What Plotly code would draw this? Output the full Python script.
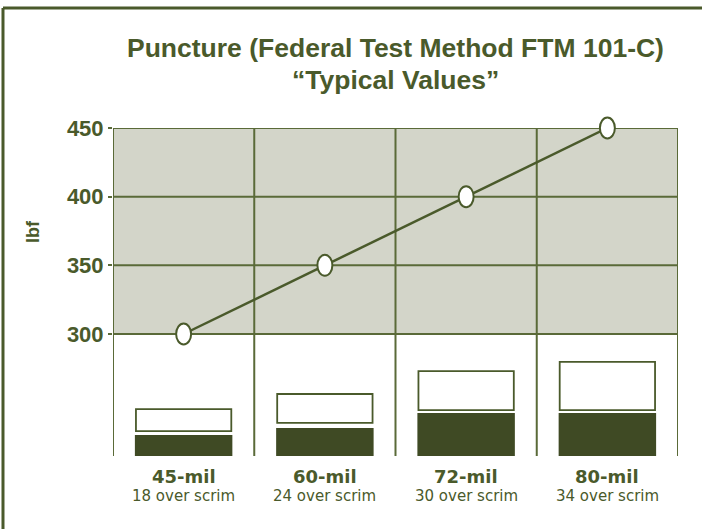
import plotly.graph_objects as go

# ---- data ----
categories = ["45-mil", "60-mil", "72-mil", "80-mil"]
subtitles = ["18 over scrim", "24 over scrim", "30 over scrim", "34 over scrim"]
puncture_lbf = [300, 350, 400, 450]
y_ticks = [300, 350, 400, 450]
# illustrative thickness bars (relative units)
dark_bar = [6.4, 8.5, 13.1, 13.1]
white_base = [7.6, 10.1, 14.0, 14.0]
white_top = [14.3, 18.9, 25.9, 28.7]

OLIVE = "#4a5a2b"
GRID = "#5a6a38"
DARK = "#3f4a24"
GRAY = "#d3d5c9"
FONT = "Liberation Sans"
WFONT = "DejaVu Sans"

x_idx = list(range(len(categories)))
lo = y_ticks[0] - (456 - 334) / ((334 - 128) / (y_ticks[-1] - y_ticks[0]))
hi = y_ticks[-1]

fig = go.Figure()

fig.add_trace(go.Bar(x=x_idx, y=dark_bar, yaxis="y2", width=0.69,
                     marker=dict(color=DARK, line=dict(width=0)), showlegend=False, hoverinfo="skip"))
fig.add_trace(go.Bar(x=x_idx, y=[t - b for t, b in zip(white_top, white_base)], base=white_base,
                     yaxis="y2", width=0.675, hoverinfo="skip",
                     marker=dict(color="white", line=dict(color=OLIVE, width=1.8)), showlegend=False))

fig.add_trace(go.Scatter(x=x_idx, y=puncture_lbf, mode="lines", cliponaxis=False,
                         line=dict(color=OLIVE, width=2.5), showlegend=False))

shapes = []
shapes.append(dict(type="rect", xref="paper", yref="y", x0=0, x1=1, y0=y_ticks[0], y1=y_ticks[-1],
                   fillcolor=GRAY, line=dict(width=0), layer="below"))
for v in y_ticks:
    shapes.append(dict(type="line", xref="paper", yref="y", x0=0, x1=1, y0=v, y1=v,
                       line=dict(color=GRID, width=2), layer="below"))
for k in range(len(categories) + 1):
    shapes.append(dict(type="line", xref="x", yref="paper", x0=k - 0.5, x1=k - 0.5, y0=0, y1=1,
                       line=dict(color=GRID, width=2), layer="below"))
# ellipse markers (paper y so they are not clipped at the top edge)
for xi, v in zip(x_idx, puncture_lbf):
    shapes.append(dict(type="circle", xref="x", yref="paper", xsizemode="pixel", ysizemode="pixel",
                       xanchor=xi, yanchor=(v - lo) / (hi - lo), x0=-7.5, x1=7.5, y0=-10.5, y1=10.5,
                       fillcolor="white", line=dict(color=OLIVE, width=2), layer="above"))
# outer frame (left and top)
shapes.append(dict(type="line", xref="paper", yref="paper", x0=-0.1947, x1=1.1, y0=1.3659, y1=1.3659,
                   line=dict(color=OLIVE, width=3)))
shapes.append(dict(type="line", xref="paper", yref="paper", x0=-0.1947, x1=-0.1947, y0=1.3659, y1=-0.3,
                   line=dict(color=OLIVE, width=3)))

annotations = []
for xi, c, s in zip(x_idx, categories, subtitles):
    annotations.append(dict(x=xi, xref="x", y=-0.064, yref="paper", yanchor="middle", showarrow=False,
                            text="<b>" + c + "</b>", font=dict(family=WFONT, size=18, color=OLIVE)))
    annotations.append(dict(x=xi, xref="x", y=-0.122, yref="paper", yanchor="middle", showarrow=False,
                            text=s, font=dict(family=WFONT, size=15, color=OLIVE)))
annotations.append(dict(x=-0.1416, xref="paper", xanchor="center", y=(y_ticks[0] + y_ticks[-1]) / 2,
                        yref="y", yanchor="middle", showarrow=False, textangle=-90, text="<b>lbf</b>",
                        font=dict(family=FONT, size=18, color=OLIVE)))
annotations.append(dict(x=0.5, xref="paper", xanchor="center", y=1.244, yref="paper", yanchor="middle",
                        showarrow=False, text="<b>Puncture (Federal Test Method FTM 101-C)</b>",
                        font=dict(family=FONT, size=26.5, color=OLIVE)))
annotations.append(dict(x=0.5, xref="paper", xanchor="center", y=1.146, yref="paper", yanchor="middle",
                        showarrow=False, text="<b>\u201cTypical Values\u201d</b>",
                        font=dict(family=FONT, size=26.5, color=OLIVE)))

fig.update_layout(
    width=702, height=529,
    margin=dict(l=113, r=24, t=128, b=73),
    paper_bgcolor="white", plot_bgcolor="white",
    shapes=shapes, annotations=annotations,
    barmode="overlay", hovermode=False,
    xaxis=dict(range=[-0.5, len(categories) - 0.5], showticklabels=False, showgrid=False,
               zeroline=False, showline=False, ticks=""),
    yaxis=dict(range=[lo, hi], tickvals=y_ticks, ticktext=["<b>%d</b>" % v for v in y_ticks],
               showgrid=False, zeroline=False, showline=False, ticks="outside", ticklen=4,
               tickcolor=GRID, tickwidth=2,
               tickfont=dict(family=FONT, size=22, color=OLIVE)),
    yaxis2=dict(range=[0, 100], overlaying="y", side="right", visible=False),
)

fig.write_html("out.html", config={"displayModeBar": False},
               post_script="document.body.style.margin='0';")
